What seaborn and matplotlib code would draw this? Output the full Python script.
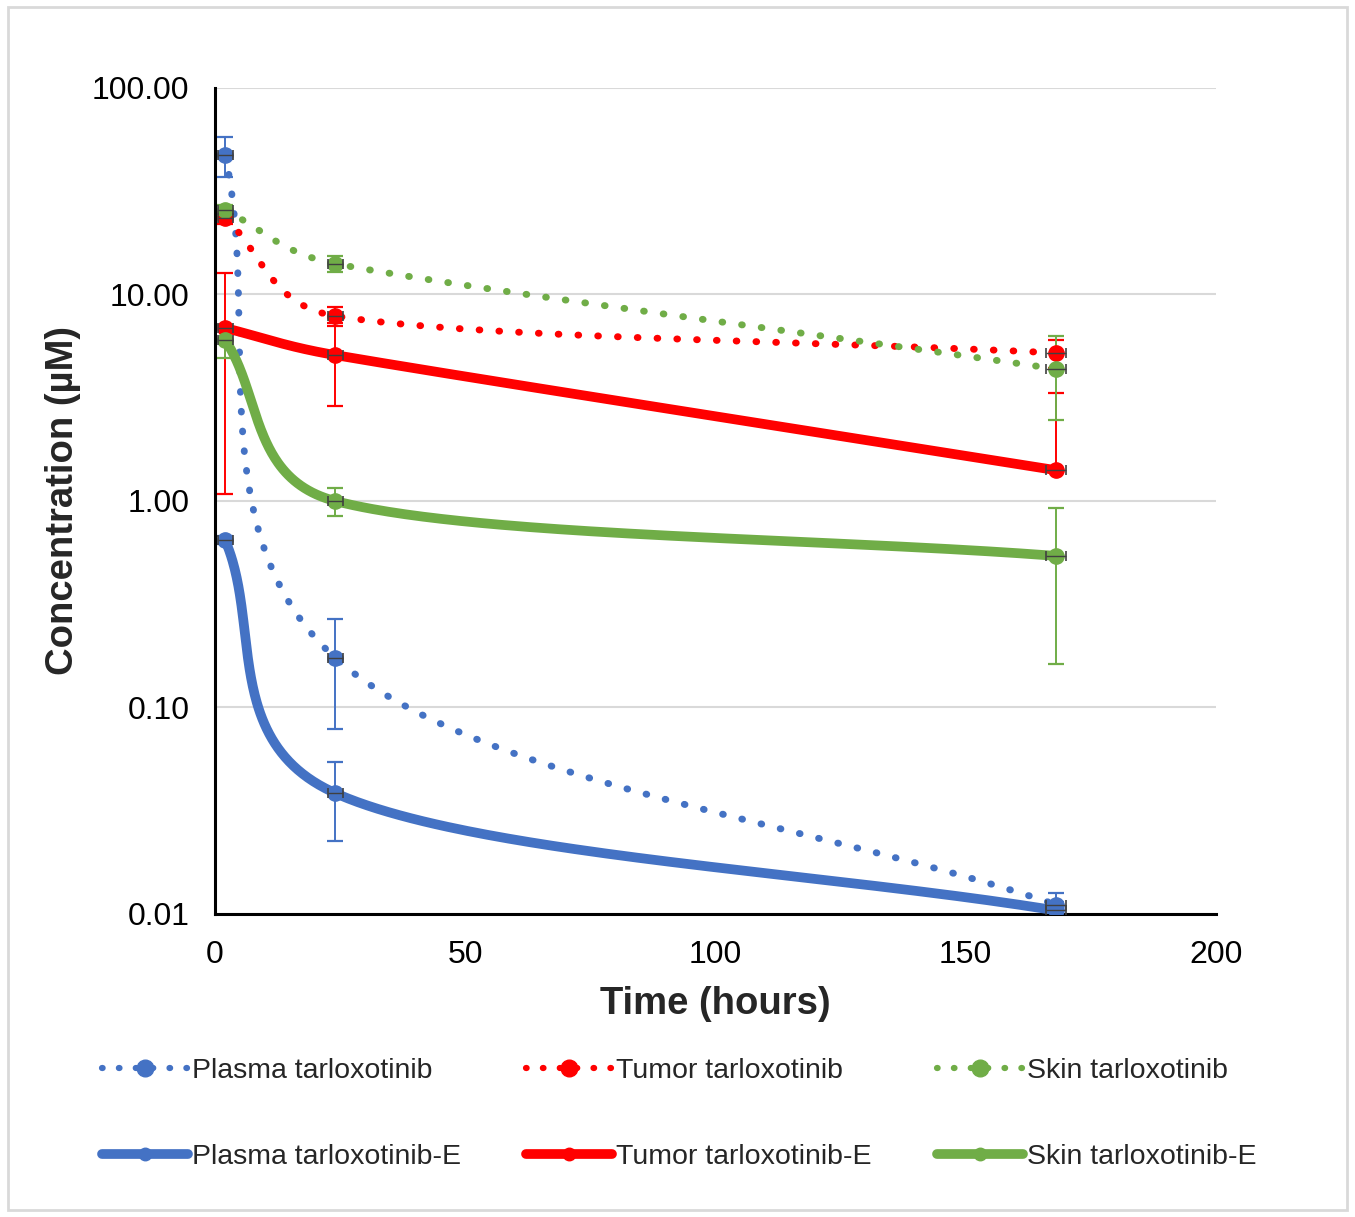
import numpy as np
import pandas as pd
import matplotlib
matplotlib.use("Agg")
import matplotlib.pyplot as plt
from matplotlib.lines import Line2D
from matplotlib.patches import Rectangle
import seaborn as sns

# --- VISUAL CONFIGURATION ---
sns.set_theme(style="white")
plt.rcParams['font.family'] = ['Liberation Sans', 'DejaVu Sans']

# --- DATA ---
time_h = [2, 24, 168]
time_err = [1.5, 1.5, 2.0]

plasma = [47.4, 0.174, 0.0111]
plasma_err = [10.5, 0.095, 0.0016]
plasma_e = [0.647, 0.0385, 0.0104]
plasma_e_err = [0.03, 0.016, 0.001]

tumor = [23.5, 7.87, 5.21]
tumor_err = [1.5, 0.8, 0.8]
tumor_e = [6.88, 5.09, 1.41]
tumor_e_err = [5.8, 2.2, 1.92]

skin = [25.6, 14.1, 4.36]
skin_err = [1.5, 1.3, 1.9]
skin_e = [6.02, 1.0, 0.542]
skin_e_err = [1.1, 0.15, 0.38]

labels = ["Plasma tarloxotinib", "Plasma tarloxotinib-E",
          "Tumor tarloxotinib", "Tumor tarloxotinib-E",
          "Skin tarloxotinib", "Skin tarloxotinib-E"]

BLUE, RED, GREEN = "#4472C4", "#FF0000", "#70AD47"

series = [
    (labels[0], plasma, plasma_err, BLUE, True),
    (labels[1], plasma_e, plasma_e_err, BLUE, False),
    (labels[2], tumor, tumor_err, RED, True),
    (labels[3], tumor_e, tumor_e_err, RED, False),
    (labels[4], skin, skin_err, GREEN, True),
    (labels[5], skin_e, skin_e_err, GREEN, False),
]

DOTTED = (0, (0.1, 2.75))
PX_X, PX_Y = 5.005, 206.5  # rough pixel scale of the plot area (per hour, per decade)


def smooth(x, y, n=100):
    # Excel-like smoothed line, built in pixel-like space (x, log y)
    p = np.column_stack([np.asarray(x, float) * PX_X, np.log10(y) * PX_Y])
    out = []
    for i in range(len(p) - 1):
        a, b = p[i], p[i + 1]
        d = np.hypot(*(b - a))
        if i == 0:
            c1 = a + (b - a) / 3
        else:
            tan = (b - p[i - 1]) / 6
            c1 = a + tan * min(1, 0.45 * d / np.hypot(*tan))
        if i + 2 >= len(p):
            c2 = b - (b - a) / 3
        else:
            tan = (p[i + 2] - a) / 6
            c2 = b - tan * min(1, 0.45 * d / np.hypot(*tan))
        t = np.linspace(0, 1, n)[:, None]
        seg = ((1 - t) ** 3 * a + 3 * (1 - t) ** 2 * t * c1
               + 3 * (1 - t) * t ** 2 * c2 + t ** 3 * b)
        out.append(seg if i == 0 else seg[1:])
    out = np.vstack(out)
    return out[:, 0] / PX_X, 10 ** (out[:, 1] / PX_Y)


fig = plt.figure(figsize=(13.55, 12.17), dpi=100)
ax = fig.add_axes([0.1587, 0.249, 0.7387, 0.6787])

for label, y, err, color, dotted in series:
    xs, ys = smooth(time_h, y)
    df = pd.DataFrame({"t": xs, "c": ys})
    if dotted:
        sns.lineplot(data=df, x="t", y="c", ax=ax, sort=False, estimator=None,
                     color=color, lw=5.0, linestyle=DOTTED,
                     dash_capstyle="round", zorder=3)
    else:
        sns.lineplot(data=df, x="t", y="c", ax=ax, sort=False, estimator=None,
                     color=color, lw=7, solid_capstyle="round", zorder=3)
    y_arr, e_arr = np.array(y), np.array(err)
    lower = np.where(e_arr < y_arr, e_arr, 0)
    ax.errorbar(time_h, y, yerr=[lower, e_arr], fmt="o", color=color,
                ms=11, ecolor=color, elinewidth=1.4, capsize=5.5,
                capthick=1.6, zorder=4)
    ax.errorbar(time_h, y, xerr=time_err, fmt="none", ecolor="#404040",
                elinewidth=1.0, capsize=3.5, capthick=1.2, zorder=5)

ax.set_yscale("log")
ax.set_ylim(0.01, 100)
ax.set_xlim(0, 200)
ax.set_xticks([0, 50, 100, 150, 200])
ax.set_yticks([0.01, 0.1, 1, 10, 100])
ax.set_yticklabels(["0.01", "0.10", "1.00", "10.00", "100.00"])
ax.minorticks_off()
ax.yaxis.grid(True, color="#d9d9d9", lw=1.5)
ax.xaxis.grid(False)
for s in ["top", "right"]:
    ax.spines[s].set_visible(False)
for s in ["left", "bottom"]:
    ax.spines[s].set_color("black")
    ax.spines[s].set_linewidth(2.2)
ax.tick_params(axis="both", direction="inout", length=16, width=2,
               color="black", labelsize=23, pad=10.5, labelcolor="black")

ax.set_xlabel("Time (hours)", fontsize=27.5, fontweight="bold", labelpad=12)
ax.set_ylabel("Concentration (µM)", fontsize=27.5, fontweight="bold", labelpad=8)

# --- LEGEND ---
handles = []
for label, y, err, color, dotted in series:
    if dotted:
        h = Line2D([], [], color=color, lw=4.5, linestyle=(0, (0.1, 2.6)),
                   dash_capstyle="round", marker="o", ms=12)
    else:
        h = Line2D([], [], color=color, lw=7, solid_capstyle="round",
                   marker="o", ms=9)
    handles.append(h)

fig.legend(handles, labels, ncol=3, loc="upper left",
           bbox_to_anchor=(0.0755, 0.1303), frameon=False, fontsize=20.5,
           handlelength=3.0, handletextpad=0.15, columnspacing=2.3,
           labelspacing=2.1, borderaxespad=0, borderpad=0)

fig.patches.append(Rectangle((8 / 1355, 7 / 1217), 1339 / 1355, 1203 / 1217,
                             transform=fig.transFigure, fill=False,
                             ec="#d9d9d9", lw=2))

plt.savefig("out.png", dpi=100)
plt.close()
